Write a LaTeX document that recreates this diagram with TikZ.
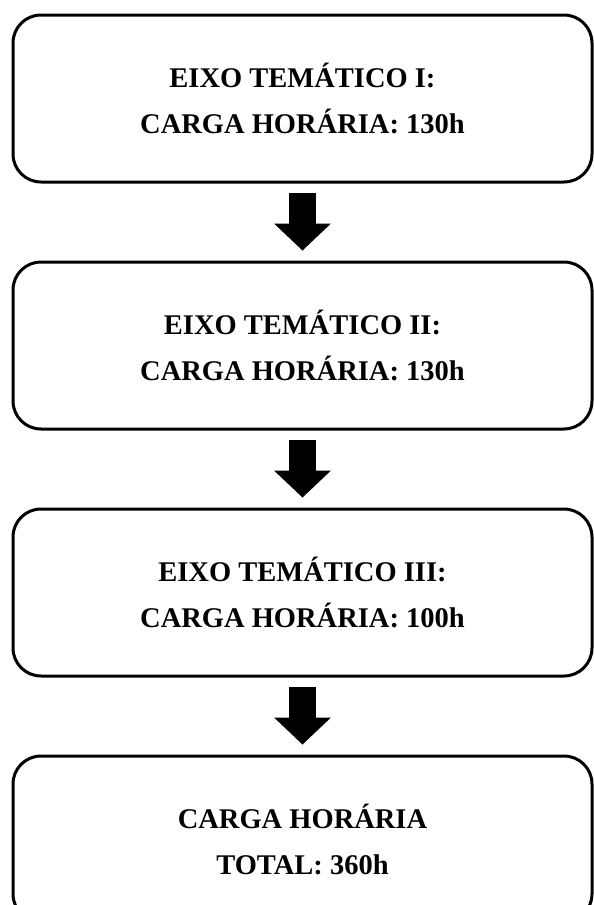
\documentclass[tikz,border=0pt]{standalone}
\usepackage{fontspec}
\setmainfont{Liberation Serif}
\usepackage{tikz}
\usetikzlibrary{arrows.meta,positioning}

\begin{document}
\begin{tikzpicture}[
    eixobox/.style={draw, line width=3pt, rounded corners=28pt, minimum width=579pt, minimum height=167pt, inner sep=0pt, align=center, font=\fontsize{28.5}{46}\selectfont\bfseries},
    seta/.style={line width=27pt, -{Triangle[length=27pt, width=57pt, line width=0pt]}, shorten <=9pt, shorten >=10pt}
]
\useasboundingbox (0,0) rectangle (594pt,-905pt);

% Boxes
\node[eixobox] (eixoA) at (302.5pt,-98.5pt) {EIXO TEMÁTICO I:\\CARGA HORÁRIA: 130h};
\node[eixobox, below=77pt of eixoA] (eixoB) {EIXO TEMÁTICO II:\\CARGA HORÁRIA: 130h};
\node[eixobox, below=77pt of eixoB] (eixoC) {EIXO TEMÁTICO III:\\CARGA HORÁRIA: 100h};
\node[eixobox, below=77pt of eixoC, minimum height=166pt] (total) {CARGA HORÁRIA\\TOTAL: 360h};

% Arrows
\foreach \a/\b in {eixoA/eixoB, eixoB/eixoC, eixoC/total} {
    \draw[seta] (\a.south) -- (\b.north);
}

\end{tikzpicture}
\end{document}
